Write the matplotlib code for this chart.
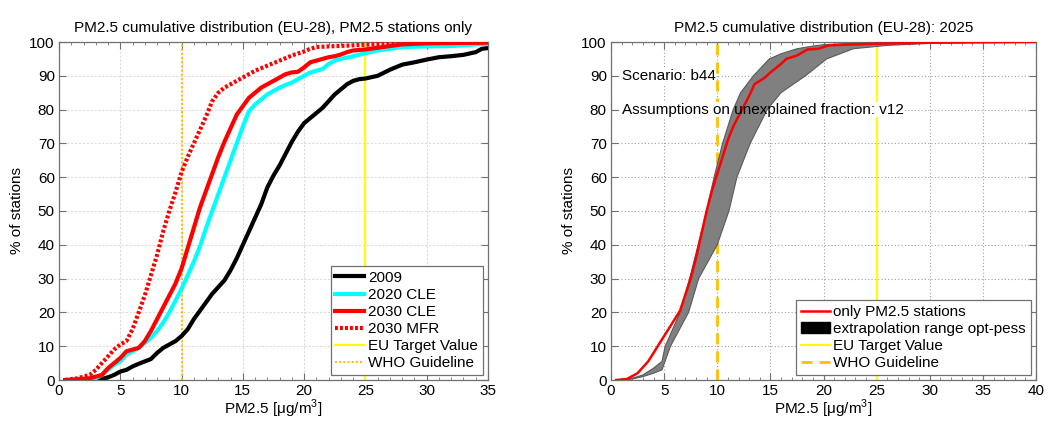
import numpy as np
import matplotlib
matplotlib.use("Agg")
import matplotlib.pyplot as plt
from matplotlib.patches import Patch
from matplotlib.lines import Line2D
from matplotlib.ticker import MultipleLocator

plt.rcParams['font.family'] = ['Liberation Sans', 'DejaVu Sans']
plt.rcParams['mathtext.fontset'] = 'custom'
plt.rcParams['mathtext.rm'] = 'Liberation Sans'
plt.rcParams['font.size'] = 11

# ---------------- Left panel data ----------------
x_2009 = [2.5, 3, 3.5, 4, 4.5, 5, 5.5, 6, 6.5, 7, 7.5, 8, 8.5, 9, 9.5, 10, 10.5, 11, 11.5, 12, 12.5, 13,
          13.5, 14, 14.5, 15, 15.5, 16, 16.5, 17, 17.5, 18, 18.5, 19, 19.5, 20, 20.5, 21, 21.5, 22,
          22.5, 23, 23.5, 24, 24.5, 25, 26, 27, 28, 29, 30, 31, 32, 33, 34, 34.5, 35]
y_2009 = [0, 0.1, 0.3, 0.8, 1.5, 2.5, 3, 4, 4.8, 5.5, 6.2, 8, 9.5, 10.5, 11.5, 13, 15, 18, 20.5, 23, 25.5, 27.5,
          29.5, 32.5, 36, 40, 44, 48, 52, 57, 60.5, 63.5, 67, 70.5, 73.5, 76, 77.5, 79, 80.5, 82.5,
          84.5, 86, 87.5, 88.5, 89, 89.2, 90, 91.8, 93.3, 94, 94.8, 95.5, 95.8, 96.2, 97, 98, 98.2]

x_2020 = [0.5, 1, 2, 2.5, 3, 3.5, 4, 4.5, 5, 5.5, 6, 6.5, 7, 7.5, 8, 8.5, 9, 9.5, 10, 10.5, 11, 11.5, 12,
          12.5, 13, 13.5, 14, 14.5, 15, 15.5, 16, 16.5, 17, 17.5, 18, 18.5, 19, 19.5, 20, 20.5, 21, 21.5,
          22, 22.5, 23, 24, 25, 26, 27, 28, 30, 32, 34, 35]
y_2020 = [0, 0, 0, 0.2, 0.5, 1.5, 3, 4.5, 5.5, 7.5, 8.5, 9.5, 11, 12.5, 14.5, 17, 20, 23.5, 27, 31, 35, 39.5, 45,
          50, 55, 60, 65, 70, 75, 79.5, 81.5, 83, 84.5, 85.5, 86.5, 87.3, 88, 89, 90, 91, 91.5, 92,
          93.5, 94.5, 95, 95.8, 96.7, 97.5, 98, 98.5, 98.7, 98.8, 99.3, 99.5]

x_2030 = [0.5, 1.5, 2.5, 3.5, 4, 4.5, 5, 5.5, 6, 6.5, 7, 7.5, 8, 8.5, 9, 9.5, 10, 10.5, 11, 11.5, 12, 12.5,
          13, 13.5, 14, 14.5, 15, 15.5, 16, 16.5, 17, 17.5, 18, 18.5, 19, 19.5, 20, 20.5, 21, 21.5, 22,
          22.5, 23, 23.5, 24, 25, 26, 27, 28, 30, 35]
y_2030 = [0, 0.2, 0.5, 1.5, 3.5, 5, 6.5, 8.5, 9, 9.5, 11.5, 14.5, 18, 21.5, 25, 28.5, 33, 39, 45, 51, 56, 61,
          66, 70.5, 74.5, 78.5, 81, 83.5, 85, 86.5, 87.5, 88.5, 89.5, 90.5, 91, 91.2, 92.5, 94, 94.5, 95, 95.5,
          95.8, 96.3, 97, 97.5, 97.8, 98.3, 98.8, 99.3, 99.6, 99.8]

x_mfr = [0.5, 1.5, 2.5, 3, 3.5, 4, 4.5, 5, 5.5, 6, 6.5, 7, 7.5, 8, 8.5, 9, 9.5, 10, 10.5, 11, 11.5, 12, 12.5,
         13, 13.5, 14, 15, 16, 17, 18, 19, 20, 20.5, 21, 22, 24, 25, 27, 30, 35]
y_mfr = [0, 0.5, 1.5, 3, 5, 7, 9, 10.5, 11.5, 15, 20, 25, 31, 37, 44, 50, 55.5, 61.5, 66, 70, 74, 78, 82.5,
         85, 86.5, 87.5, 89.5, 91.5, 93, 94.5, 96, 97.2, 98, 98.5, 98.7, 99, 99.2, 99.5, 99.8, 100]

eu_target = 25
who_guideline = 10

# ---------------- Right panel data ----------------
x_only = [0.5, 1.5, 2.5, 3.5, 4.5, 5.5, 6.5, 7.5, 8, 8.5, 9, 9.5, 10, 10.5, 11, 11.5, 12, 12.5, 13, 13.5,
          14.5, 15, 16, 16.5, 17.5, 18.5, 19.5, 20.5, 22, 25, 30, 40]
y_only = [0, 0.3, 2, 5.5, 10.5, 15.5, 20.5, 30, 36, 43, 50, 56, 61, 66, 71, 75, 78, 81, 84, 87.5,
          89.5, 91, 93.5, 95, 96, 97.8, 98, 99, 99.2, 99.5, 99.8, 100]

x_opt = [1, 2, 3, 4, 4.8, 5.1, 6.5, 7.4, 8.2, 9, 9.7, 10.5, 11.5, 12.2, 13.4, 14.9, 16, 17.5, 19, 20, 22,
         25, 30, 40]
y_opt = [0, 0.5, 1.5, 3.5, 5.5, 10, 20, 30, 40, 50, 60, 70, 80, 85, 90, 95, 96.5, 98, 98.8, 99.2, 99.5,
         99.7, 99.9, 100]
x_pess = [1, 2, 3, 4, 4.8, 5.6, 7.3, 8.25, 10, 11.1, 11.85, 13.1, 14.7, 16, 18.3, 20.3, 22.8, 26, 30, 35, 40]
y_pess = [0, 0.3, 1, 2, 3, 10, 20, 30, 40, 50, 60, 70, 80, 85, 90, 95, 98, 99, 99.6, 99.9, 100]

scenario_text = "Scenario: b44"
assump_text = "Assumptions on unexplained fraction: v12"

spine_col = '#707070'
fig = plt.figure(figsize=(10.48, 4.21), dpi=100)
ax1 = fig.add_axes([59/1048, 1-380/421, 429/1048, 338/421])
ax2 = fig.add_axes([611/1048, 1-380/421, 425/1048, 338/421])


def style(ax, xmax, xmaj, gridcol, gridls):
    ax.set_xlim(0, xmax)
    ax.set_ylim(0, 100)
    ax.xaxis.set_major_locator(MultipleLocator(xmaj))
    ax.xaxis.set_minor_locator(MultipleLocator(1))
    ax.yaxis.set_major_locator(MultipleLocator(10))
    ax.tick_params(which='both', direction='in', top=True, right=True, colors=spine_col,
                   labelcolor='black', labelsize=11)
    ax.tick_params(which='major', length=5, width=0.8)
    ax.tick_params(which='minor', length=2.5, width=0.6)
    ax.tick_params(axis='x', pad=3)
    ax.tick_params(axis='y', pad=3)
    for s in ax.spines.values():
        s.set_color(spine_col)
        s.set_linewidth(0.9)
    ax.grid(True, which='major', color=gridcol, linestyle=gridls, linewidth=0.8)
    ax.set_axisbelow(True)
    ax.set_xlabel('PM2.5 [μg/m$^3$]', fontsize=11, labelpad=0)
    ax.set_ylabel('% of stations', fontsize=11, labelpad=4)


style(ax1, 35, 5, '#dcdcdc', (0, (2, 1.5)))
style(ax2, 40, 5, '#a0a0a0', (0, (1, 2)))

# Left panel
ax1.axvline(eu_target, color='#ffff00', lw=1.5, zorder=2)
ax1.axvline(who_guideline, color='#ffc000', lw=1.5, ls=(0, (1, 1)), zorder=2)
ax1.plot(x_2009, y_2009, color='black', lw=3, zorder=3)
ax1.plot(x_2020, y_2020, color='cyan', lw=3, zorder=3)
ax1.plot(x_2030, y_2030, color='red', lw=3, zorder=4)
ax1.plot(x_mfr, y_mfr, color='red', lw=3, ls=(0, (0.7, 0.5)), zorder=4)
ax1.set_title('PM2.5 cumulative distribution (EU-28), PM2.5 stations only', fontsize=11, pad=7)

h1 = [Line2D([], [], color='black', lw=3), Line2D([], [], color='cyan', lw=3),
      Line2D([], [], color='red', lw=3), Line2D([], [], color='red', lw=3, ls=(0, (0.7, 0.5))),
      Line2D([], [], color='#ffff00', lw=1.5), Line2D([], [], color='#ffc000', lw=1.5, ls=(0, (1, 1)))]
leg1 = ax1.legend(h1, ['2009', '2020 CLE', '2030 CLE', '2030 MFR', 'EU Target Value', 'WHO Guideline'],
                  loc='lower right', fontsize=11, fancybox=False, framealpha=1, edgecolor='#707070',
                  handlelength=1.9, handletextpad=0.25, labelspacing=0.2, borderpad=0.3, borderaxespad=0.35)
leg1.get_frame().set_linewidth(0.9)
leg1.set_zorder(10)

# Right panel
ax2.axvline(eu_target, color='#ffff00', lw=1.5, zorder=2)
ax2.axvline(who_guideline, color='#ffc000', lw=2, ls=(0, (4, 2.5)), zorder=2)
# white background of the annotation texts (below the band and the red line)
tb = dict(facecolor='white', edgecolor='none', pad=0.5)
ax2.text(1.0, 90, scenario_text, fontsize=11, va='center', ha='left', color='white', bbox=tb, zorder=3)
ax2.text(1.0, 80, assump_text, fontsize=11, va='center', ha='left', color='white', bbox=tb, zorder=3)
ax2.fill(np.concatenate([x_opt, x_pess[::-1]]), np.concatenate([y_opt, y_pess[::-1]]),
         facecolor='#808080', edgecolor='#5a5a5a', lw=0.8, zorder=4)
ax2.plot(x_only, y_only, color='red', lw=1.8, zorder=5)
ax2.text(1.0, 90, scenario_text, fontsize=11, va='center', ha='left', color='black', zorder=6)
ax2.text(1.0, 80, assump_text, fontsize=11, va='center', ha='left', color='black', zorder=6)
ax2.set_title('PM2.5 cumulative distribution (EU-28): 2025', fontsize=11, pad=7)

h2 = [Line2D([], [], color='red', lw=1.8), Patch(facecolor='black', edgecolor='black'),
      Line2D([], [], color='#ffff00', lw=1.5), Line2D([], [], color='#ffc000', lw=2, ls=(0, (4, 2.5)))]
leg2 = ax2.legend(h2, ['only PM2.5 stations', 'extrapolation range opt-pess', 'EU Target Value', 'WHO Guideline'],
                  loc='lower right', fontsize=11, fancybox=False, framealpha=1, edgecolor='#707070',
                  handlelength=1.9, handletextpad=0.25, labelspacing=0.2, borderpad=0.3, borderaxespad=0.35)
leg2.get_frame().set_linewidth(0.9)
leg2.set_zorder(10)

fig.savefig('out.png', dpi=100)
